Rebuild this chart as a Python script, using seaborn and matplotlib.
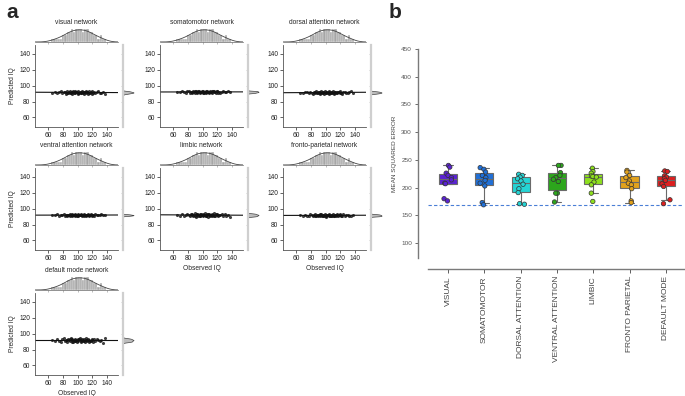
import numpy as np
import pandas as pd
import matplotlib
matplotlib.use("Agg")
import matplotlib.pyplot as plt
import seaborn as sns

# ---------------- data: panel a ----------------
obs_iq = [65, 69, 72, 75, 77, 79, 81, 83, 84, 85,
          86, 87, 88, 89, 90, 91, 92, 93, 93, 94,
          95, 96, 97, 97, 98, 99, 100, 101, 101, 102,
          103, 104, 105, 105, 106, 107, 108, 109, 109, 110,
          111, 112, 113, 113, 114, 115, 116, 117, 118, 119,
          120, 121, 123, 124, 126, 128, 130, 132, 135, 137]

pred_visual = [91.0, 92.3, 90.6, 91.8, 92.9, 90.2, 91.5, 92.1, 89.9, 91.3,
               92.6, 90.8, 91.7, 93.0, 90.4, 91.2, 92.4, 89.6, 91.9, 92.7,
               90.9, 91.4, 93.2, 90.1, 91.6, 92.2, 89.8, 91.1, 92.8, 90.5,
               91.9, 92.5, 90.3, 91.0, 93.1, 90.7, 91.6, 92.0, 89.7, 91.4,
               92.9, 90.6, 91.8, 92.3, 90.0, 91.3, 93.3, 90.8, 91.5, 92.6,
               89.5, 91.2, 92.4, 90.4, 91.7, 93.4, 90.9, 91.1, 92.0, 88.9]
pred_somatomotor = [92.1, 91.4, 93.0, 91.8, 90.9, 92.6, 93.3, 91.2, 92.4, 90.6,
                    91.9, 93.1, 92.2, 91.0, 92.8, 93.5, 91.5, 92.0, 90.8, 92.7,
                    93.2, 91.6, 92.3, 90.5, 91.9, 93.4, 92.1, 91.3, 92.9, 90.7,
                    92.5, 93.0, 91.1, 92.2, 93.6, 91.7, 92.4, 90.9, 91.8, 93.2,
                    92.0, 91.4, 92.8, 90.4, 92.6, 93.1, 91.6, 92.3, 91.0, 92.9,
                    93.3, 91.2, 92.5, 90.8, 91.9, 92.7, 91.5, 92.2, 93.0, 91.7]
pred_dorsal = [91.3, 90.7, 92.2, 91.6, 90.1, 92.5, 91.0, 89.8, 92.0, 91.4,
               90.5, 92.8, 91.2, 90.3, 91.9, 92.4, 90.9, 89.6, 91.7, 92.6,
               91.1, 90.4, 92.1, 91.5, 90.0, 92.9, 91.3, 90.6, 91.8, 92.3,
               90.8, 89.9, 91.6, 92.7, 91.0, 90.2, 92.0, 91.4, 90.7, 93.0,
               91.2, 89.7, 91.9, 92.5, 90.9, 91.5, 90.3, 92.2, 91.7, 90.6,
               92.8, 91.1, 90.0, 91.8, 92.4, 90.5, 91.3, 92.1, 93.1, 90.8]
pred_ventral = [92.0, 91.5, 92.6, 91.1, 92.3, 91.8, 92.9, 91.3, 92.1, 90.9,
                91.7, 92.5, 91.4, 92.8, 91.0, 92.2, 91.6, 93.0, 91.2, 92.4,
                91.9, 90.8, 92.7, 91.5, 92.0, 91.1, 92.6, 91.8, 90.7, 92.3,
                91.4, 92.9, 91.7, 92.1, 91.0, 92.5, 91.6, 93.1, 91.3, 92.2,
                91.9, 90.6, 92.4, 91.5, 92.8, 91.2, 92.0, 91.7, 92.6, 91.1,
                92.3, 91.8, 90.9, 92.7, 91.4, 92.1, 91.6, 93.2, 91.9, 92.0]
pred_limbic = [92.4, 91.0, 93.3, 90.4, 92.0, 93.8, 91.5, 90.1, 92.8, 91.7,
               93.5, 90.7, 92.2, 91.3, 94.0, 90.0, 92.6, 91.9, 93.1, 90.5,
               92.0, 93.7, 91.1, 90.8, 92.9, 91.6, 93.4, 90.3, 92.3, 91.8,
               94.1, 90.6, 92.5, 91.2, 93.0, 89.9, 92.7, 91.4, 93.6, 90.9,
               92.1, 91.7, 93.2, 90.2, 92.4, 91.0, 93.9, 90.6, 92.8, 91.5,
               93.3, 90.4, 92.2, 91.9, 93.6, 90.8, 92.6, 91.3, 92.0, 89.8]
pred_fronto = [91.5, 90.9, 92.4, 91.2, 90.4, 92.7, 91.8, 90.6, 92.1, 91.0,
               92.9, 90.2, 91.6, 92.3, 90.8, 91.4, 93.0, 90.5, 91.9, 92.6,
               91.1, 90.3, 92.2, 91.7, 90.7, 92.8, 91.3, 90.0, 92.0, 91.5,
               92.5, 90.9, 91.8, 93.1, 90.6, 91.2, 92.4, 90.4, 91.6, 92.7,
               91.0, 90.1, 92.1, 91.9, 90.8, 92.9, 91.4, 90.5, 92.3, 91.7,
               93.2, 90.7, 91.1, 92.6, 90.3, 91.8, 92.0, 91.3, 90.9, 92.5]
pred_default = [91.8, 90.2, 93.0, 91.1, 89.5, 92.6, 94.0, 90.7, 92.2, 91.4,
                89.9, 93.4, 91.6, 90.4, 92.9, 94.3, 90.0, 91.9, 93.1, 89.2,
                92.4, 91.0, 93.7, 90.6, 92.0, 89.7, 93.3, 91.5, 90.1, 92.7,
                94.1, 90.9, 91.7, 89.4, 93.0, 92.1, 90.3, 93.6, 91.2, 89.8,
                92.5, 94.4, 90.5, 91.8, 93.2, 89.6, 92.3, 91.3, 90.8, 93.8,
                91.6, 89.3, 92.8, 90.2, 93.5, 91.9, 90.6, 92.1, 88.8, 93.9]

network_titles = ["visual network", "somatomotor network", "dorsal attention network",
                  "ventral attention network", "limbic network", "fronto-parietal network",
                  "default mode network"]
network_preds = [pred_visual, pred_somatomotor, pred_dorsal, pred_ventral,
                 pred_limbic, pred_fronto, pred_default]
iq_ticks = [60, 80, 100, 120, 140]

# ---------------- data: panel b ----------------
mse_networks = ["VISUAL", "SOMATOMOTOR", "DORSAL ATTENTION", "VENTRAL ATTENTION",
                "LIMBIC", "FRONTO PARIETAL", "DEFAULT MODE"]
mse_visual = [240, 237, 226, 222, 218, 214, 208, 207, 180, 176]
mse_somatomotor = [236, 233, 228, 222, 218, 213, 208, 203, 173, 169]
mse_dorsal = [224, 222, 219, 216, 212, 206, 198, 191, 171, 170]
mse_ventral = [240, 240, 227, 222, 218, 215, 211, 190, 190, 174]
mse_limbic = [235, 229, 226, 221, 220, 219, 210, 205, 190, 175]
mse_fronto = [231, 228, 222, 218, 212, 208, 205, 198, 176, 173]
mse_default = [230, 229, 221, 219, 216, 213, 207, 202, 178, 171]
mse_values = [mse_visual, mse_somatomotor, mse_dorsal, mse_ventral,
              mse_limbic, mse_fronto, mse_default]
mse_baseline = 168
mse_colors = ["#5a22d2", "#2070d8", "#25d4d4", "#2ca61c", "#8ee01e", "#e2a21c", "#dc1f1f"]

# ---------------- style ----------------
sns.set_theme(style="white")
plt.rcParams["font.family"] = ["Liberation Sans", "DejaVu Sans"]
plt.rcParams["axes.linewidth"] = 0.6

W, H = 685, 396
fig = plt.figure(figsize=(W / 100, H / 100), dpi=100)


def px(x0, y0, x1, y1):
    return [x0 / W, 1 - y1 / H, (x1 - x0) / W, (y1 - y0) / H]


XL = (42, 155)
YL = (48, 151)
col_left = [35, 160, 283]
row_top = [45, 168, 293]
MW, MH = 83, 82
fs = 4.8

for i, (title, pred) in enumerate(zip(network_titles, network_preds)):
    r, c = divmod(i, 3)
    x0, y0 = col_left[c], row_top[r]
    ax = fig.add_axes(px(x0, y0, x0 + MW, y0 + MH))
    axt = fig.add_axes(px(x0, y0 - 17, x0 + MW, y0 - 3))
    axr = fig.add_axes(px(x0 + MW + 5, y0, x0 + MW + 16, y0 + MH))

    # main scatter + regression
    ax.set_xlim(*XL)
    ax.set_ylim(*YL)
    sns.regplot(x=obs_iq, y=pred, ax=ax, ci=None, truncate=False,
                scatter_kws=dict(s=5, color="#111111", linewidths=0),
                line_kws=dict(color="#111111", lw=0.8))
    ax.set_xlim(*XL)
    ax.set_ylim(*YL)
    ax.set_xticks(iq_ticks)
    ax.set_yticks(iq_ticks)
    ax.tick_params(labelsize=fs, length=2, width=0.5, pad=1.5, colors="#222222",
                   bottom=True, left=True)
    for s in ["top", "right"]:
        ax.spines[s].set_visible(False)
    for s in ["left", "bottom"]:
        ax.spines[s].set_color("#555555")
        ax.spines[s].set_linewidth(0.6)
    ax.set_xlabel("")
    ax.set_ylabel("")
    if c == 0:
        ax.set_ylabel("Predicted IQ", fontsize=fs, labelpad=2)
    if i >= 4:
        ax.set_xlabel("Observed IQ", fontsize=fs, labelpad=2)

    # top marginal
    sns.histplot(x=obs_iq, ax=axt, bins=np.arange(58, 142, 3), stat="density",
                 color="#a6a6a6", edgecolor="white", linewidth=0.25, alpha=1)
    sns.kdeplot(x=obs_iq, ax=axt, color="#444444", lw=0.6, bw_adjust=1.0, cut=4)
    axt.set_xlim(*XL)
    axt.set_ylim(0, None)
    axt.set_xticks(iq_ticks)
    axt.set_yticks([])
    axt.set_xticklabels([])
    axt.tick_params(axis="x", length=1.5, width=0.4, colors="#888888", bottom=True)
    for s in ["top", "right", "left"]:
        axt.spines[s].set_visible(False)
    axt.spines["bottom"].set_color("#666666")
    axt.spines["bottom"].set_linewidth(0.5)
    axt.set_xlabel("")
    axt.set_ylabel("")
    axt.set_facecolor("none")
    axt.set_title(title, fontsize=fs, pad=3)

    # right marginal
    sns.kdeplot(y=pred, ax=axr, fill=True, color="#bdbdbd", alpha=1,
                edgecolor="#444444", linewidth=0.5, bw_adjust=0.8)
    axr.set_ylim(*YL)
    axr.set_xlim(0, None)
    axr.set_yticks(iq_ticks)
    axr.set_yticklabels([])
    axr.set_xticks([])
    axr.tick_params(axis="y", length=1.5, width=0.4, colors="#aaaaaa", left=True)
    for s in ["top", "right", "bottom"]:
        axr.spines[s].set_visible(False)
    axr.spines["left"].set_color("#cfcfcf")
    axr.spines["left"].set_linewidth(1.6)
    axr.set_xlabel("")
    axr.set_ylabel("")
    axr.set_facecolor("none")

fig.text(6 / W, 1 - 18 / H, "a", fontsize=15, fontweight="bold", ha="left", va="baseline")
fig.text(389 / W, 1 - 18 / H, "b", fontsize=15, fontweight="bold", ha="left", va="baseline")

# ---------------- panel b ----------------
df = pd.DataFrame({
    "network": np.repeat(mse_networks, [len(v) for v in mse_values]),
    "mse": np.concatenate(mse_values),
})
axb = fig.add_axes(px(428, 49, 684, 258))
pal = dict(zip(mse_networks, mse_colors))
sns.boxplot(data=df, x="network", y="mse", hue="network", palette=pal, ax=axb,
            width=0.5, linecolor="#6a6a6a", linewidth=0.8, showfliers=False,
            saturation=1, legend=False, order=mse_networks)
np.random.seed(3)
sns.stripplot(data=df, x="network", y="mse", hue="network", palette=pal, ax=axb,
              size=3.2, jitter=0.12, edgecolor="#333333", linewidth=0.5,
              legend=False, order=mse_networks)
axb.axhline(mse_baseline, color="#4a7fd6", lw=0.8, ls=(0, (3, 2)))
axb.set_ylim(73, 450)
axb.set_xlim(-0.55, 6.5)
axb.set_yticks(np.arange(100, 451, 50))
for s in ["top", "right"]:
    axb.spines[s].set_visible(False)
axb.spines["left"].set_position(("outward", 7))
axb.spines["bottom"].set_position(("outward", 8))
for s in ["left", "bottom"]:
    axb.spines[s].set_color("#7a7a7a")
    axb.spines[s].set_linewidth(1.0)
axb.tick_params(axis="y", labelsize=4.6, length=2.5, width=0.6, colors="#555555",
                left=True, pad=2)
axb.tick_params(axis="x", labelsize=6.0, length=3, width=0.6, colors="#444444",
                bottom=True, pad=2, labelrotation=90)
axb.set_xlabel("")
axb.set_ylabel("MEAN SQUARED ERROR", fontsize=4.6, color="#444444", labelpad=3)

fig.savefig("out.png", dpi=100)
